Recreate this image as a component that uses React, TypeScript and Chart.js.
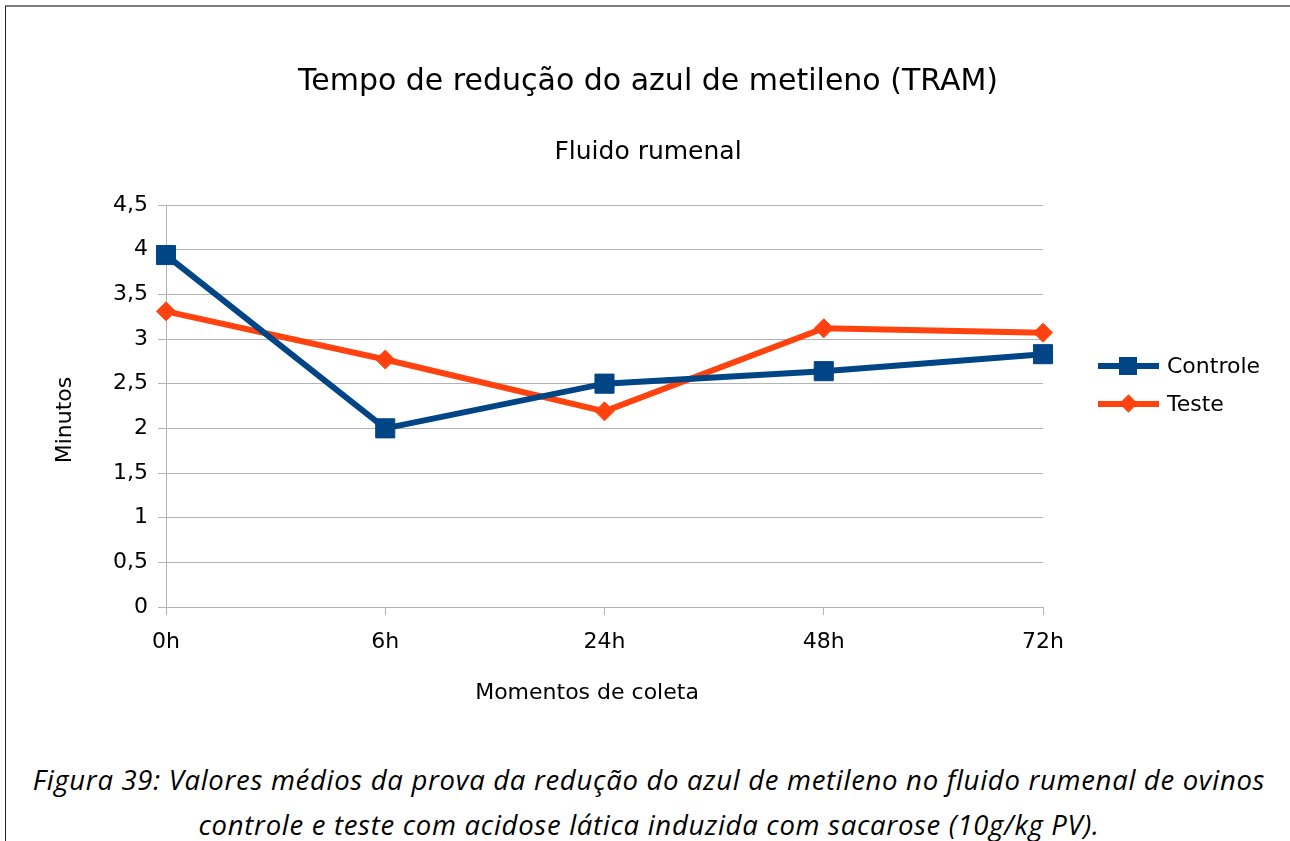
import React, { useEffect, useRef } from "react";
import { Chart, registerables } from "chart.js";

Chart.register(...registerables);

const categories = ["0h", "6h", "24h", "48h", "72h"];
const controle = [3.94, 2.0, 2.5, 2.64, 2.83];
const teste = [3.31, 2.77, 2.19, 3.12, 3.07];
const yTicks = [0, 0.5, 1, 1.5, 2, 2.5, 3, 3.5, 4, 4.5];

const BLUE = "#004586";
const ORANGE = "#ff420e";
const GRID = "#b3b3b3";
const FONT = "'DejaVu Sans', 'Liberation Sans', sans-serif";

export default function App() {
  const ref = useRef<HTMLCanvasElement | null>(null);

  useEffect(() => {
    document.body.style.margin = "0";
    const ctx = ref.current!.getContext("2d")!;
    const chart = new Chart(ctx, {
      type: "line",
      data: {
        labels: categories,
        datasets: [
          {
            label: "Controle",
            data: controle,
            borderColor: BLUE,
            backgroundColor: BLUE,
            borderWidth: 6,
            pointStyle: "rect",
            pointRadius: 13.5,
            pointBorderWidth: 1,
            pointBorderColor: BLUE,
            pointBackgroundColor: BLUE,
            tension: 0,
            yAxisID: "y",
          },
          {
            label: "Teste",
            data: teste,
            borderColor: ORANGE,
            backgroundColor: ORANGE,
            borderWidth: 6,
            pointStyle: "rectRot",
            pointRadius: 9.5,
            pointBorderWidth: 1,
            pointBorderColor: ORANGE,
            pointBackgroundColor: ORANGE,
            tension: 0,
            yAxisID: "y",
          },
        ],
      },
      options: {
        animation: false,
        responsive: false,
        layout: { padding: 0 },
        plugins: {
          legend: { display: false },
          tooltip: { enabled: false },
          title: {
            display: true,
            text: "Tempo de redução do azul de metileno (TRAM)",
            color: "#000",
            font: { family: FONT, size: 30, weight: "normal", lineHeight: 1.2 },
            padding: { top: 58, bottom: 0 },
          },
          subtitle: {
            display: true,
            text: "Fluido rumenal",
            color: "#000",
            font: { family: FONT, size: 25, weight: "normal", lineHeight: 1.2 },
            padding: { top: 37, bottom: 38 },
          },
        },
        scales: {
          x: {
            type: "category",
            offset: false,
            grid: {
              display: true,
              drawOnChartArea: false,
              drawTicks: true,
              tickLength: 8,
              color: GRID,
              lineWidth: 1,
            },
            border: { display: true, color: GRID, width: 1 },
            ticks: {
              color: "#000",
              font: { family: FONT, size: 22 },
              padding: 14,
              maxRotation: 0,
            },
            title: {
              display: true,
              text: "Momentos de coleta     ",
              color: "#000",
              font: { family: FONT, size: 22, lineHeight: 1.2 },
              padding: { top: 0, bottom: 35 },
            },
            afterFit: (scale: any) => {
              scale.height = 134;
            },
          },
          y: {
            type: "linear",
            position: "left",
            min: 0,
            max: 4.5,
            afterBuildTicks: (scale: any) => {
              scale.ticks = yTicks.map((v) => ({ value: v }));
            },
            grid: {
              display: true,
              drawTicks: true,
              tickLength: 8,
              color: GRID,
              lineWidth: 1,
            },
            border: { display: true, color: GRID, width: 1 },
            ticks: {
              color: "#000",
              font: { family: FONT, size: 22 },
              padding: 10,
              callback: (v: any) => String(v).replace(".", ","),
            },
            title: {
              display: true,
              text: "Minutos    ",
              color: "#000",
              font: { family: FONT, size: 22, lineHeight: 1.2 },
              padding: { top: 46, bottom: 0 },
            },
            afterFit: (scale: any) => {
              scale.width = 160;
            },
          },
          spacer: {
            type: "linear",
            position: "right",
            display: true,
            grid: { display: false, drawTicks: false },
            border: { display: false },
            ticks: { display: false },
            afterFit: (scale: any) => {
              scale.width = 247;
            },
          },
        },
      },
    });
    return () => chart.destroy();
  }, []);

  const legendItem = (label: string, color: string, marker: "rect" | "diamond", top: number) => (
    <div style={{ position: "absolute", left: 1098, top: top - 20, height: 40, width: 190 }}>
      <div style={{ position: "absolute", left: 0, top: 17, width: 61, height: 6, background: color }} />
      {marker === "rect" ? (
        <div style={{ position: "absolute", left: 21, top: 11, width: 18, height: 18, background: color }} />
      ) : (
        <div
          style={{
            position: "absolute",
            left: 24,
            top: 13,
            width: 13,
            height: 13,
            background: color,
            transform: "rotate(45deg)",
          }}
        />
      )}
      <div
        style={{
          position: "absolute",
          left: 69,
          top: 0,
          height: 40,
          lineHeight: "40px",
          fontFamily: FONT,
          fontSize: 22,
          color: "#000",
          whiteSpace: "nowrap",
        }}
      >
        {label}
      </div>
    </div>
  );

  return (
    <div style={{ position: "fixed", left: 0, top: 0, width: 1290, height: 841, background: "#fff", overflow: "hidden" }}>
      <div
        style={{
          position: "absolute",
          left: 5,
          top: 5,
          width: 1290,
          height: 841,
          borderTop: "2px solid #808080",
          borderLeft: "1px solid #222",
          boxSizing: "border-box",
        }}
      />
      <canvas ref={ref} width={1284} height={735} style={{ position: "absolute", left: 6, top: 6, width: 1284, height: 735 }} />
      {legendItem("Controle", BLUE, "rect", 366)}
      {legendItem("Teste", ORANGE, "diamond", 404)}
      <div
        style={{
          position: "absolute",
          left: 0,
          width: 1298,
          top: 757,
          textAlign: "center",
          fontFamily: "'Open Sans', Lato, sans-serif",
          fontStyle: "italic",
          fontSize: 27.5,
          letterSpacing: "0.7px",
          lineHeight: "45px",
          color: "#000",
        }}
      >
        Figura 39: Valores médios da prova da redução do azul de metileno no fluido rumenal de ovinos
        <br />
        controle e teste com acidose lática induzida com sacarose (10g/kg PV).
      </div>
    </div>
  );
}
